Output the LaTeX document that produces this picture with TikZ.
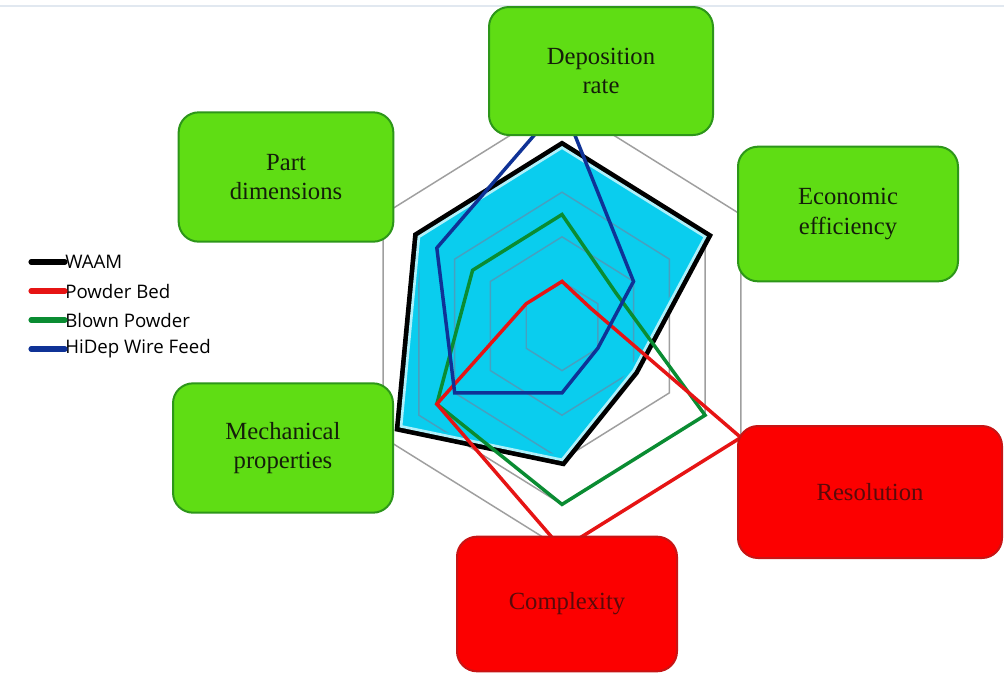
\documentclass[tikz,border=0pt]{standalone}
\usepackage{fontspec}
\setmainfont{Liberation Serif}
\setsansfont{Open Sans}
\definecolor{boxgreen}{RGB}{95,221,20}
\definecolor{greenedge}{RGB}{45,150,25}
\definecolor{greentext}{RGB}{20,30,10}
\definecolor{boxred}{RGB}{252,0,0}
\definecolor{rededge}{RGB}{200,20,20}
\definecolor{redtext}{RGB}{90,10,10}
\definecolor{waamfill}{RGB}{10,205,238}
\definecolor{waamedge}{RGB}{175,240,250}
\definecolor{gridteal}{RGB}{70,160,192}
\definecolor{powder}{RGB}{230,20,20}
\definecolor{blown}{RGB}{10,140,50}
\definecolor{hidep}{RGB}{15,50,150}
\definecolor{topline}{RGB}{225,232,240}
\tikzset{
  greenbox/.style={draw=greenedge, fill=boxgreen, line width=1.5pt, rounded corners=15pt,
    align=center, text=greentext, font=\fontsize{18.5}{22}\selectfont},
  redbox/.style={draw=rededge, fill=boxred, line width=1.5pt, rounded corners=15pt,
    align=center, text=redtext, font=\fontsize{18.5}{22}\selectfont},
  gridline/.style={draw=gray!75, line width=1.1pt},
  dataline/.style={line width=2.6pt, line join=miter},
  legline/.style={line width=3.8pt, line cap=round},
  legtext/.style={anchor=west, inner sep=0pt, font=\sffamily\fontsize{14}{16}\selectfont}
}

\begin{document}
\begin{tikzpicture}[x=0.75pt,y=-0.75pt]
\useasboundingbox (0,0) rectangle (1004,683);
\fill [white] (0,0) rectangle (1004,683);
\draw [topline, line width=1.2pt] (0,6) -- (1004,6);
\begin{scope}[shift={(562,326)},x=30.975pt,y=33.45pt]
\foreach \r in {1,...,5}
  \draw [gridline] (90:\r) -- (30:\r) -- (-30:\r) -- (-90:\r) -- (210:\r) -- (150:\r) -- cycle;
\draw [black, line width=9pt] (90:4) -- (30:4) -- (-30:2) -- (-90:3) -- (210:4.5) -- (150:4) -- cycle;
\draw [fill=waamfill, draw=waamedge, line width=2pt] (90:4) -- (30:4) -- (-30:2) -- (-90:3) -- (210:4.5) -- (150:4) -- cycle;
\begin{scope}
\clip (90:3.9) -- (30:3.9) -- (-30:1.9) -- (-90:2.9) -- (210:4.4) -- (150:3.9) -- cycle;
\foreach \r in {1,...,5}
  \draw [gridline, draw=gridteal] (90:\r) -- (30:\r) -- (-30:\r) -- (-90:\r) -- (210:\r) -- (150:\r) -- cycle;
\end{scope}
\draw [dataline, blown] (90:2.5) -- (30:1.5) -- (-30:4) -- (-90:4) -- (210:3.5) -- (150:2.5) -- cycle;
\draw [dataline, powder] (90:1) -- (30:0.8) -- (-30:5) -- (-90:5) -- (210:3.5) -- (150:1) -- cycle;
\draw [dataline, hidep] (90:5) -- (30:2) -- (-30:1) -- (-90:1.5) -- (210:3) -- (150:3.5) -- cycle;
\end{scope}

\node [greenbox, minimum width=168pt, minimum height=96pt] (deprate) at (601,71) {Deposition\\rate};
\node [greenbox, minimum width=165pt, minimum height=101pt] (econ) at (848,214) {Economic\\efficiency};
\node [greenbox, minimum width=161pt, minimum height=97pt] (partdim) at (286,177) {Part\\dimensions};
\node [greenbox, minimum width=165pt, minimum height=97pt] (mechprop) at (283,448) {Mechanical\\properties};
\node [redbox, minimum width=198pt, minimum height=99pt] (resol) at (870,492) {Resolution};
\node [redbox, minimum width=165pt, minimum height=101pt] (complex) at (567,604) {Complexity};

\node [legtext] (lwaam) at (65,262) {WAAM};
\node [legtext] (lpowder) at (65,291) {Powder Bed};
\node [legtext] (lblown) at (65,320) {Blown Powder};
\node [legtext] (lhidep) at (65,349) {HiDep Wire Feed};
\draw [legline, black] (31,262) -- (lwaam.west);
\draw [legline, powder] (31,291) -- (lpowder.west);
\draw [legline, blown] (31,320) -- (lblown.west);
\draw [legline, hidep] (31,349) -- (lhidep.west);
\end{tikzpicture}
\end{document}
